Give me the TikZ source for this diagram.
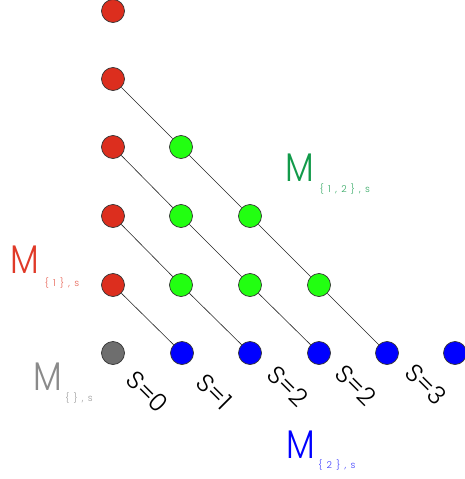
\documentclass[tikz,border=0pt]{standalone}
\usepackage{fontspec}
\setmainfont{Poppins}
\newfontfamily\thinfont{Poppins Light}
\definecolor{cred}{HTML}{DC2E1E}
\definecolor{cgreen}{HTML}{22FF11}
\definecolor{cblue}{HTML}{0000FF}
\definecolor{cgray}{HTML}{6E6E6E}
\definecolor{lred}{HTML}{E03A28}
\definecolor{lgreen}{HTML}{129A4A}
\definecolor{lgray}{HTML}{8A8A8A}
\begin{document}
\begin{tikzpicture}[x=1pt,y=-1pt,
  dot/.style={circle,draw=black!80,line width=0.7pt,minimum size=23pt,inner sep=0pt},
  conn/.style={draw=black!85,line width=0.6pt},
  mlab/.style={font=\thinfont\fontsize{40}{40}\selectfont,inner sep=0pt,xscale=0.85},
  sublab/.style={font=\thinfont\fontsize{9.5}{9.5}\selectfont\addfontfeature{LetterSpace=18},inner sep=0pt},
  slab/.style={font=\thinfont\fontsize{25}{25}\selectfont,rotate=-45,inner sep=0pt}]
\useasboundingbox (0,0) rectangle (465,479);
% red column
\node[dot,fill=cred] (r0) at (113,11) {};
\node[dot,fill=cred] (r1) at (113,79) {};
\node[dot,fill=cred] (r2) at (113,147) {};
\node[dot,fill=cred] (r3) at (113,216) {};
\node[dot,fill=cred] (r4) at (113,285) {};
% gray
\node[dot,fill=cgray] (k0) at (113,353) {};
% green
\node[dot,fill=cgreen] (g11) at (181,147) {};
\node[dot,fill=cgreen] (g21) at (181,216) {};
\node[dot,fill=cgreen] (g31) at (181,285) {};
\node[dot,fill=cgreen] (g22) at (250,216) {};
\node[dot,fill=cgreen] (g32) at (250,285) {};
\node[dot,fill=cgreen] (g33) at (319,285) {};
% blue row
\node[dot,fill=cblue] (b1) at (182,353) {};
\node[dot,fill=cblue] (b2) at (250,353) {};
\node[dot,fill=cblue] (b3) at (319,353) {};
\node[dot,fill=cblue] (b4) at (387,353) {};
\node[dot,fill=cblue] (b5) at (455,353) {};
% connectors
\draw[conn] (r1) -- (g11);
\draw[conn] (g11) -- (g22);
\draw[conn] (g22) -- (g33);
\draw[conn] (g33) -- (b4);
\draw[conn] (r2) -- (g21);
\draw[conn] (g21) -- (g32);
\draw[conn] (g32) -- (b3);
\draw[conn] (r3) -- (g31);
\draw[conn] (g31) -- (b2);
\draw[conn] (r4) -- (b1);
% M labels
\node[mlab,text=lred] (mr) at (25,260) {M};
\node[sublab,text=lred!80] (mrs) at (62,283) {\{ 1 \} , s};
\node[mlab,text=lgray] (mk) at (48,377) {M};
\node[sublab,text=lgray!85] (mks) at (79,398) {\{ \} , s};
\node[mlab,text=lgreen] (mg) at (300,168) {M};
\node[sublab,text=lgreen!85] (mgs) at (345,189) {\{ 1 , 2 \} , s};
\node[mlab,text=cblue] (mb) at (301,445) {M};
\node[sublab,text=cblue!75] (mbs) at (337,465) {\{ 2 \} , s};
% S labels
\node[slab] (s0) at (147,392) {S=0};
\node[slab] (s1) at (214,392) {S=1};
\node[slab] (s2) at (288,386) {S=2};
\node[slab] (s2b) at (356,385) {S=2};
\node[slab] (s3) at (426,384) {S=3};
\end{tikzpicture}
\end{document}
